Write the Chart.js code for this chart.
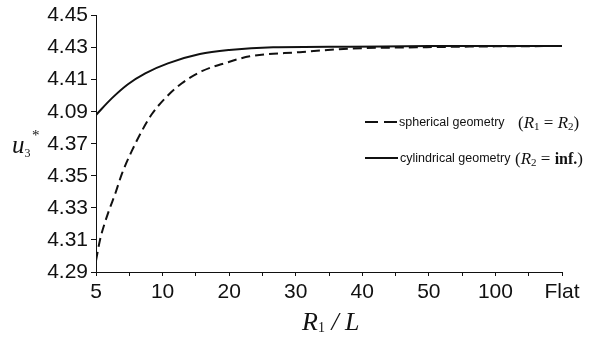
<!DOCTYPE html>
<html>
<head>
<meta charset="utf-8">
<script src="https://cdn.jsdelivr.net/npm/chart.js@4/dist/chart.umd.min.js"></script>
<style>
  html, body { margin: 0; padding: 0; background: #fff; }
  #wrap { width: 593px; height: 337px; }
</style>
</head>
<body>
<div id="wrap"><canvas id="chart" width="593" height="337"></canvas></div>
<script>
// tick labels as printed on the original (the "4.09" is the original's own typo for 4.39)
const xLabels = ['5', '10', '20', '30', '40', '50', '100', 'Flat'];
const yLabels = ['4.29', '4.31', '4.33', '4.35', '4.37', '4.09', '4.41', '4.43', '4.45'];

// positions along the category axis (0 = "5", 7 = "Flat")
const sphericalX = [0, 0.06, 0.18, 0.29, 0.39, 0.54, 0.69, 0.84, 1.04, 1.29, 1.59, 1.95, 2.31, 3.06, 3.82, 4.82, 6, 7];
const sphericalY = [4.297, 4.310, 4.3266, 4.339, 4.3514, 4.3657, 4.3781, 4.3886, 4.3985, 4.4078, 4.4153, 4.4205, 4.4246, 4.4272, 4.4294, 4.4302, 4.4308, 4.431];

const cylindricalX = [0, 0.24, 0.48, 0.74, 1.08, 1.56, 2.0, 2.66, 3.82, 5, 6, 7];
const cylindricalY = [4.388, 4.3985, 4.4072, 4.414, 4.4202, 4.426, 4.4285, 4.4302, 4.4306, 4.431, 4.431, 4.431];

function toPoints(xs, ys) {
  return xs.map((x, i) => ({ x: x, y: ys[i] }));
}

const SANS = '"Liberation Sans", Arial, sans-serif';
const SERIF = '"Liberation Serif", "Times New Roman", serif';

// draw a run of text pieces: [text, font, dy]
function drawRun(ctx, x, y, pieces) {
  pieces.forEach((p) => {
    ctx.font = p[1];
    ctx.fillText(p[0], x, y + (p[2] || 0));
    x += ctx.measureText(p[0]).width;
  });
  return x;
}

const annotations = {
  id: 'annotations',
  afterDraw(chart) {
    const ctx = chart.ctx;
    const area = chart.chartArea;
    ctx.save();
    ctx.fillStyle = '#111';
    ctx.textBaseline = 'alphabetic';
    ctx.textAlign = 'left';

    // x axis title  R1 / L
    const cx = (area.left + area.right) / 2;
    drawRun(ctx, cx - 27, area.bottom + 58, [
      ['R', 'italic 26px ' + SERIF],
      ['1', '14px ' + SERIF, 2],
      [' / ', 'italic 26px ' + SERIF],
      ['L', 'italic 26px ' + SERIF]
    ]);

    // y axis title  u3*
    drawRun(ctx, 12, 153, [
      ['u', 'italic 25px ' + SERIF],
      ['3', '12px ' + SERIF, 4]
    ]);
    ctx.font = '15px ' + SERIF;
    ctx.fillText('*', 32, 140);

    // legend
    ctx.strokeStyle = '#111';
    ctx.lineWidth = 2;
    ctx.setLineDash([13, 6]);
    ctx.beginPath();
    ctx.moveTo(365, 122);
    ctx.lineTo(397, 122);
    ctx.stroke();
    ctx.setLineDash([]);
    ctx.beginPath();
    ctx.moveTo(365, 158);
    ctx.lineTo(398, 158);
    ctx.stroke();

    ctx.textBaseline = 'middle';
    ctx.font = '12.5px ' + SANS;
    ctx.fillText('spherical geometry', 399, 123);
    ctx.fillText('cylindrical geometry', 400, 159);

    ctx.textBaseline = 'alphabetic';
    drawRun(ctx, 518, 128, [
      ['(', '17px ' + SERIF],
      ['R', 'italic 17px ' + SERIF],
      ['1', '11px ' + SERIF, 2],
      [' = ', '17px ' + SERIF],
      ['R', 'italic 17px ' + SERIF],
      ['2', '11px ' + SERIF, 2],
      [')', '17px ' + SERIF]
    ]);
    drawRun(ctx, 515, 164, [
      ['(', '17px ' + SERIF],
      ['R', 'italic 17px ' + SERIF],
      ['2', '11px ' + SERIF, 2],
      [' = ', '17px ' + SERIF],
      ['inf.', 'bold 16px ' + SERIF],
      [')', '17px ' + SERIF]
    ]);
    ctx.restore();
  }
};

new Chart(document.getElementById('chart'), {
  type: 'line',
  data: {
    datasets: [
      {
        label: 'spherical geometry (R1 = R2)',
        data: toPoints(sphericalX, sphericalY),
        borderColor: '#111',
        borderWidth: 2,
        borderDash: [9, 5],
        pointRadius: 0,
        cubicInterpolationMode: 'monotone',
        fill: false
      },
      {
        label: 'cylindrical geometry (R2 = inf.)',
        data: toPoints(cylindricalX, cylindricalY),
        borderColor: '#111',
        borderWidth: 2,
        pointRadius: 0,
        cubicInterpolationMode: 'monotone',
        fill: false
      }
    ]
  },
  options: {
    responsive: false,
    animation: false,
    layout: { padding: { top: 14, right: 31, left: 0, bottom: 0 } },
    plugins: {
      legend: { display: false },
      tooltip: { enabled: false }
    },
    scales: {
      x: {
        type: 'linear',
        min: 0,
        max: 7,
        afterFit: (scale) => { scale.height = 65; },
        border: { color: '#111', width: 1 },
        grid: { drawOnChartArea: false, color: '#111', tickLength: 4 },
        ticks: {
          stepSize: 0.5,
          autoSkip: false,
          maxRotation: 0,
          padding: 4,
          color: '#111',
          font: { family: SANS, size: 21 },
          callback: (v) => Number.isInteger(v) ? xLabels[v] : ''
        }
      },
      y: {
        min: 4.29,
        max: 4.45,
        afterFit: (scale) => { scale.width = 96; },
        border: { color: '#111', width: 1 },
        grid: { drawOnChartArea: false, color: '#111', tickLength: 5 },
        ticks: {
          stepSize: 0.02,
          padding: 3,
          color: '#111',
          font: { family: SANS, size: 21 },
          callback: (v) => yLabels[Math.round((v - 4.29) / 0.02)]
        }
      }
    }
  },
  plugins: [annotations]
});
</script>
</body>
</html>
